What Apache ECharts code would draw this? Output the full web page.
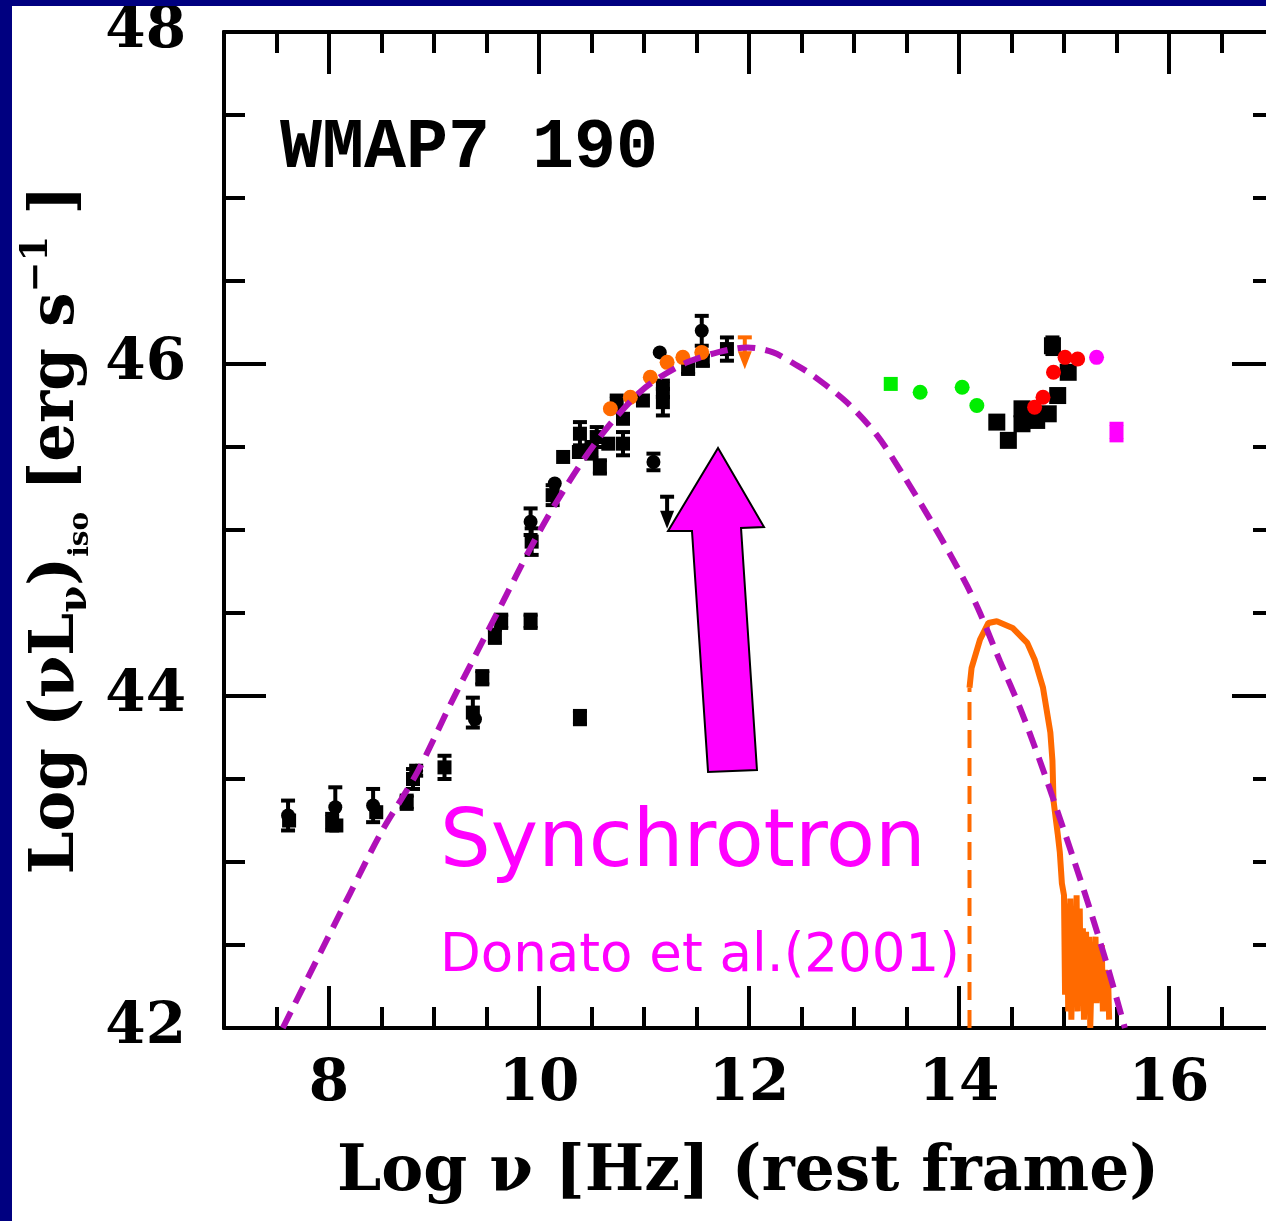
<!DOCTYPE html>
<html>
<head>
<meta charset="utf-8">
<script src="https://cdn.jsdelivr.net/npm/echarts@6/dist/echarts.min.js"></script>
<style>
  html, body { margin: 0; padding: 0; background: #000080; }
  #chart { position: absolute; left: 12px; top: 6px; width: 1254px; height: 1215px; background: #fff; }
</style>
</head>
<body>
<div id="chart"></div>
<script>
// Log nu [Hz] vs Log nuL_nu [erg/s]
const xMajor = [8, 10, 12, 14, 16];

// synchrotron model (dashed purple)
const synchModel = [
  [7.56, 42.0], [8.20, 42.81], [8.49, 43.17], [8.84, 43.54], [9.18, 43.98],
  [9.65, 44.56], [9.91, 44.88], [10.13, 45.13], [10.42, 45.42], [10.68, 45.64],
  [10.96, 45.83], [11.15, 45.92], [11.41, 46.01], [11.70, 46.07], [11.98, 46.10],
  [12.23, 46.07], [12.46, 45.99], [12.61, 45.93], [12.93, 45.77], [13.22, 45.57],
  [13.47, 45.33], [13.72, 45.07], [13.91, 44.86], [14.08, 44.66], [14.20, 44.50],
  [14.39, 44.21], [14.58, 43.93], [14.77, 43.61], [14.93, 43.32], [15.09, 43.02],
  [15.25, 42.71], [15.41, 42.38], [15.58, 42.0]
];

// optical/UV spectrum (orange)
const specCut = [[14.10, 42.0], [14.10, 44.05]];
const spectrum = [
  [14.10, 44.05], [14.12, 44.17], [14.20, 44.34], [14.28, 44.44], [14.36, 44.45],
  [14.51, 44.41], [14.65, 44.32], [14.72, 44.22], [14.80, 44.05], [14.87, 43.78],
  [14.89, 43.61], [14.90, 43.37], [14.94, 43.17], [14.96, 43.06], [14.98, 42.87],
  [15.00, 42.80], [15.01, 42.20], [15.03, 42.75], [15.04, 42.10], [15.06, 42.78],
  [15.07, 42.05], [15.09, 42.70], [15.10, 42.15], [15.12, 42.80], [15.13, 42.10],
  [15.15, 42.72], [15.16, 42.20], [15.18, 42.60], [15.19, 42.05], [15.21, 42.58],
  [15.22, 42.15], [15.24, 42.55], [15.25, 42.00], [15.27, 42.50], [15.28, 42.20],
  [15.30, 42.55], [15.31, 42.15], [15.33, 42.45], [15.34, 42.25], [15.36, 42.50],
  [15.37, 42.10], [15.39, 42.35], [15.40, 42.20], [15.42, 42.30], [15.43, 42.05]
];

// [log nu, log nuLnu, error half-length]
const blackSquares = [
  [7.62, 43.25, 0], [8.03, 43.24, 0.05], [8.07, 43.22, 0], [8.45, 43.30, 0],
  [8.74, 43.36, 0.04], [8.80, 43.50, 0.06], [9.10, 43.57, 0.07], [9.37, 43.90, 0.09],
  [9.46, 44.11, 0.04], [9.58, 44.36, 0.04], [9.64, 44.45, 0.04], [9.92, 44.45, 0.04],
  [10.39, 43.87, 0.04], [9.93, 44.93, 0.08], [10.13, 45.21, 0.06], [10.23, 45.44, 0],
  [10.39, 45.58, 0.07], [10.38, 45.47, 0], [10.50, 45.48, 0.05], [10.55, 45.56, 0.06],
  [10.58, 45.38, 0.04], [10.66, 45.52, 0], [10.80, 45.52, 0.07], [10.74, 45.76, 0.05],
  [10.80, 45.67, 0], [10.99, 45.78, 0], [11.18, 45.85, 0.05], [11.18, 45.77, 0.08],
  [11.42, 45.98, 0.04], [11.56, 46.02, 0.03], [11.79, 46.09, 0.07]
];
const blackCircles = [
  [7.61, 43.28, 0.09], [8.06, 43.33, 0.12], [8.42, 43.34, 0.10], [8.83, 43.55, 0.03],
  [9.39, 43.86, 0], [9.92, 45.05, 0.08], [10.15, 45.28, 0], [11.15, 46.07, 0],
  [11.09, 45.41, 0.05], [11.55, 46.20, 0.09]
];
const blackOptical = [
  [14.36, 45.65, 0], [14.47, 45.54, 0], [14.60, 45.73, 0], [14.60, 45.64, 0],
  [14.74, 45.66, 0], [14.85, 45.70, 0], [14.94, 45.81, 0], [15.04, 45.95, 0],
  [14.89, 46.11, 0.05]
];
const blackLimits = [[11.22, 45.08, 0]];
const orangeCircles = [
  [10.68, 45.73, 0], [10.87, 45.80, 0], [11.06, 45.92, 0], [11.22, 46.01, 0],
  [11.37, 46.04, 0], [11.55, 46.07, 0]
];
const orangeLimits = [[11.96, 46.04, 0]];
const greenSquares = [[13.35, 45.88, 0]];
const greenCircles = [[13.63, 45.83, 0], [14.03, 45.86, 0], [14.17, 45.75, 0]];
const redCircles = [[14.72, 45.74, 0], [14.80, 45.80, 0], [14.90, 45.95, 0], [15.01, 46.04, 0], [15.13, 46.03, 0]];
const magentaCircles = [[15.31, 46.04, 0]];
const magentaSquares = [[15.50, 45.59, 0.05]];

// annotation arrow outline, in data coordinates
const arrowOutline = [
  [11.705, 45.494], [12.143, 45.018], [11.924, 45.012], [12.076, 43.554],
  [11.610, 43.542], [11.457, 44.994], [11.229, 44.994]
];

const chart = echarts.init(document.getElementById('chart'));

const serifFont = '"DejaVu Serif", serif';
const axisCol = '#000';

function pointRenderer(shape, size, color) {
  return function (params, api) {
    const x = api.value(0), y = api.value(1), e = api.value(2);
    const p = api.coord([x, y]);
    const kids = [];
    if (e > 0) {
      const t = api.coord([x, y + e])[1];
      const b = api.coord([x, y - e])[1];
      const st = { stroke: color, lineWidth: 4 };
      kids.push({ type: 'line', shape: { x1: p[0], y1: t, x2: p[0], y2: b }, style: st });
      kids.push({ type: 'line', shape: { x1: p[0] - 7, y1: t, x2: p[0] + 7, y2: t }, style: st });
      kids.push({ type: 'line', shape: { x1: p[0] - 7, y1: b, x2: p[0] + 7, y2: b }, style: st });
    }
    if (shape === 'rect') {
      kids.push({ type: 'rect', shape: { x: p[0] - size / 2, y: p[1] - size / 2, width: size, height: size }, style: { fill: color } });
    } else if (shape === 'circle') {
      kids.push({ type: 'circle', shape: { cx: p[0], cy: p[1], r: size / 2 }, style: { fill: color } });
    } else {
      // upper limit: bar + downward triangle
      kids.push({ type: 'line', shape: { x1: p[0], y1: p[1] - 20, x2: p[0], y2: p[1] }, style: { stroke: color, lineWidth: 4 } });
      kids.push({ type: 'line', shape: { x1: p[0] - 7, y1: p[1] - 20, x2: p[0] + 7, y2: p[1] - 20 }, style: { stroke: color, lineWidth: 4 } });
      kids.push({ type: 'polygon', shape: { points: [[p[0] - 7, p[1] - 6], [p[0] + 7, p[1] - 6], [p[0], p[1] + 12]] }, style: { fill: color } });
    }
    return { type: 'group', children: kids };
  };
}

function pointSeries(data, shape, size, color, z) {
  return {
    type: 'custom', data: data, z: z || 3, silent: true,
    encode: { x: 0, y: 1 },
    renderItem: pointRenderer(shape, size, color)
  };
}

const tickStyle = { color: axisCol, width: 4 };
// short ticks every 0.5
const minorX = {
  type: 'value', min: 7, max: 17, interval: 0.5,
  axisLine: { show: true, onZero: false, lineStyle: tickStyle },
  axisTick: { show: true, inside: true, length: 21, lineStyle: tickStyle },
  axisLabel: { show: false }, splitLine: { show: false }
};
// long ticks on the even values
const majorX = {
  type: 'value', min: 7, max: 17,
  axisLine: { show: true, onZero: false, lineStyle: tickStyle },
  axisTick: { show: true, inside: true, length: 42, customValues: xMajor, lineStyle: tickStyle },
  axisLabel: { show: false }, splitLine: { show: false }
};

const option = {
  animation: false,
  backgroundColor: '#fff',
  grid: { left: 212, top: 26, right: -8, bottom: 193, outerBoundsMode: 'none', containLabel: false },
  xAxis: [
    Object.assign({}, minorX, { position: 'bottom' }),
    Object.assign({}, majorX, {
      position: 'bottom',
      axisLabel: {
        show: true, margin: 28, customValues: xMajor,
        fontFamily: serifFont, fontWeight: 'bold', fontSize: 58, color: '#000'
      }
    }),
    Object.assign({}, minorX, { position: 'top' }),
    Object.assign({}, majorX, { position: 'top' })
  ],
  yAxis: [
    {
      type: 'value', min: 42, max: 48, interval: 2, position: 'left',
      axisLine: { show: true, onZero: false, lineStyle: tickStyle },
      axisTick: { show: true, inside: true, length: 42, lineStyle: tickStyle },
      minorTick: { show: true, splitNumber: 4, length: 21, lineStyle: tickStyle },
      axisLabel: { margin: 38, fontFamily: serifFont, fontWeight: 'bold', fontSize: 58, color: '#000' },
      splitLine: { show: false }, minorSplitLine: { show: false }
    },
    {
      type: 'value', min: 42, max: 48, interval: 2, position: 'right',
      axisLine: { show: true, onZero: false, lineStyle: tickStyle },
      axisTick: { show: true, inside: true, length: 42, lineStyle: tickStyle },
      minorTick: { show: true, splitNumber: 4, length: 21, lineStyle: tickStyle },
      axisLabel: { show: false },
      splitLine: { show: false }, minorSplitLine: { show: false }
    }
  ],
  graphic: [
    {
      type: 'text', left: 268, top: 108, silent: true,
      style: { text: 'WMAP7 190', font: 'bold 70px "Liberation Mono", monospace', fill: '#000' }
    },
    {
      type: 'text', x: 428, y: 839, silent: true,
      style: { text: 'Synchrotron', font: '80px "DejaVu Sans", sans-serif', fill: '#ff00ff', verticalAlign: 'middle' }
    },
    {
      type: 'text', x: 428, y: 951, silent: true,
      style: { text: 'Donato et al.(2001)', font: '53px "DejaVu Sans", sans-serif', fill: '#ff00ff', verticalAlign: 'middle' }
    },
    {
      type: 'text', x: 736, y: 1168, silent: true,
      style: {
        text: 'Log ν [Hz] (rest frame)', font: 'bold 63px "DejaVu Serif", serif',
        fill: '#000', align: 'center', verticalAlign: 'middle'
      }
    },
    {
      type: 'text', x: 45, y: 524, rotation: Math.PI / 2, silent: true,
      style: {
        text: '{m|Log (νL}{sub|ν}{m|)}{sub2|iso}{m| [erg s}{sup|−1}{m| ]}',
        align: 'center', verticalAlign: 'middle',
        rich: {
          m: { fontFamily: serifFont, fontWeight: 'bold', fontSize: 61, lineHeight: 76, fill: '#000', verticalAlign: 'middle' },
          sub: { fontFamily: serifFont, fontWeight: 'bold', fontSize: 39, lineHeight: 76, fill: '#000', verticalAlign: 'bottom' },
          sub2: { fontFamily: serifFont, fontWeight: 'bold', fontSize: 28, lineHeight: 76, fill: '#000', verticalAlign: 'bottom' },
          sup: { fontFamily: serifFont, fontWeight: 'bold', fontSize: 37, lineHeight: 76, fill: '#000', verticalAlign: 'top' }
        }
      }
    }
  ],
  series: [
    {
      type: 'line', data: specCut, symbol: 'none', z: 4, silent: true,
      lineStyle: { color: '#ff6a00', width: 4, type: [18, 10] }
    },
    {
      type: 'line', data: spectrum, symbol: 'none', z: 4, silent: true,
      lineStyle: { color: '#ff6a00', width: 6 }
    },
    pointSeries(blackSquares, 'rect', 14, '#000'),
    pointSeries(blackCircles, 'circle', 14, '#000'),
    pointSeries(blackOptical, 'rect', 17, '#000'),
    pointSeries(blackLimits, 'limit', 14, '#000'),
    pointSeries(orangeCircles, 'circle', 15, '#ff6a00', 4),
    pointSeries(orangeLimits, 'limit', 14, '#ff6a00', 4),
    pointSeries(greenSquares, 'rect', 14, '#00ee00'),
    pointSeries(greenCircles, 'circle', 15, '#00ee00'),
    pointSeries(redCircles, 'circle', 15, '#ff0000'),
    pointSeries(magentaCircles, 'circle', 15, '#ff00ff'),
    pointSeries(magentaSquares, 'rect', 14, '#ff00ff'),
    {
      type: 'line', data: synchModel, symbol: 'none', smooth: 0.3, z: 6, silent: true,
      lineStyle: { color: '#b010b8', width: 6, type: [18, 10] }
    },
    {
      type: 'custom', data: [arrowOutline[0]], z: 7, silent: true,
      encode: { x: 0, y: 1 },
      renderItem: function (params, api) {
        return {
          type: 'polygon',
          shape: { points: arrowOutline.map(function (pt) { return api.coord(pt); }) },
          style: { fill: '#ff00ff', stroke: '#000', lineWidth: 2 }
        };
      }
    }
  ]
};

chart.setOption(option);
</script>
</body>
</html>
